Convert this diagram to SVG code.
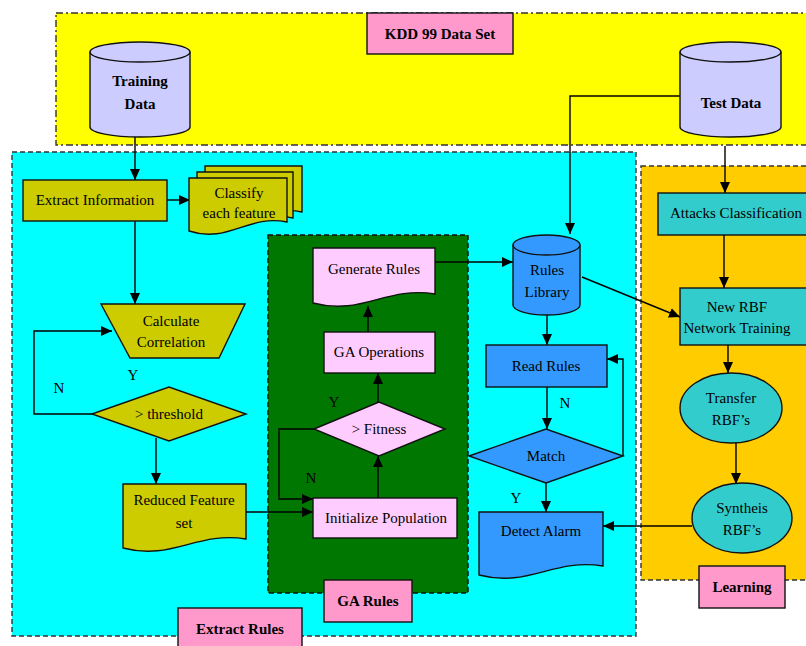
<svg xmlns="http://www.w3.org/2000/svg" width="806" height="646" viewBox="0 0 806 646">
<style>
text{font-family:"Liberation Serif","Times New Roman",serif;font-size:15px;fill:#000;text-anchor:middle;dominant-baseline:central}
.b{font-weight:bold}
.n{stroke:#111;stroke-width:1.4}
.c{fill:none;stroke:#000;stroke-width:1.4}
.lbl{fill:#ff99cc;stroke:#111;stroke-width:1.4}
</style>
<defs>
<marker id="ah" markerUnits="userSpaceOnUse" markerWidth="12" markerHeight="12" viewBox="0 0 12 12" refX="11" refY="6" orient="auto">
<path d="M0,1 L11,6 L0,11 Z" fill="#000"/>
</marker>
</defs>

<g id="regions">
<rect x="56" y="13" width="760" height="132" fill="#ffff00" stroke="#333" stroke-width="1.4" stroke-dasharray="7,3,2,3"/>
<rect x="12" y="152" width="624" height="484" fill="#00ffff" stroke="#333" stroke-width="1.4" stroke-dasharray="5,3"/>
<rect x="641" y="166" width="175" height="414" fill="#ffcc00" stroke="#333" stroke-width="1.4" stroke-dasharray="5,3"/>
<rect x="268" y="235" width="200" height="358" fill="#007700" stroke="#111" stroke-width="1.4" stroke-dasharray="5,3"/>
</g>

<g id="connectors">
<path class="c" d="M135,137 V180" marker-end="url(#ah)"/>
<path class="c" d="M167,200 H190" marker-end="url(#ah)"/>
<path class="c" d="M135,221 V304" marker-end="url(#ah)"/>
<path class="c" d="M92,414 H34 V331 H112" marker-end="url(#ah)"/>
<path class="c" d="M156,438 V484" marker-end="url(#ah)"/>
<path class="c" d="M246,512 H313" marker-end="url(#ah)"/>
<path class="c" d="M314,429 H279 V499 H313" marker-end="url(#ah)"/>
<path class="c" d="M378,498 V456" marker-end="url(#ah)"/>
<path class="c" d="M378,402 V373" marker-end="url(#ah)"/>
<path class="c" d="M368,332 V306" marker-end="url(#ah)"/>
<path class="c" d="M435,262 H513" marker-end="url(#ah)"/>
<path class="c" d="M680,96 H570 V234" marker-end="url(#ah)"/>
<path class="c" d="M725,146 V193" marker-end="url(#ah)"/>
<path class="c" d="M724,235 V288" marker-end="url(#ah)"/>
<path class="c" d="M582,277 L680,317" marker-end="url(#ah)"/>
<path class="c" d="M547,315 V345" marker-end="url(#ah)"/>
<path class="c" d="M547,387 V429" marker-end="url(#ah)"/>
<path class="c" d="M623,456 V359 H607" marker-end="url(#ah)"/>
<path class="c" d="M546,483 V512" marker-end="url(#ah)"/>
<path class="c" d="M728,345 V373" marker-end="url(#ah)"/>
<path class="c" d="M736,442 V484" marker-end="url(#ah)"/>
<path class="c" d="M692,526 H603" marker-end="url(#ah)"/>
</g>

<g id="kdd-label"><rect class="lbl" x="367" y="13" width="146" height="41"/><text class="b" x="440" y="34">KDD 99 Data Set</text></g>

<g id="training-data">
<path class="n" fill="#ccccff" d="M90,52 V127 A50,10 0 0 0 190,127 V52"/>
<ellipse class="n" fill="#ccccff" cx="140" cy="52" rx="50" ry="10"/>
<text class="b" x="140" y="81">Training</text><text class="b" x="140" y="104">Data</text>
</g>

<g id="test-data">
<path class="n" fill="#ccccff" d="M680,52 V127 A50.5,10 0 0 0 781,127 V52"/>
<ellipse class="n" fill="#ccccff" cx="730.5" cy="52" rx="50.5" ry="10"/>
<text class="b" x="731" y="103">Test Data</text>
</g>

<g id="extract-information"><rect class="n" fill="#cccc00" x="23" y="180" width="144" height="41"/><text x="95" y="200">Extract Information</text></g>

<g id="classify-feature">
<path class="n" fill="#cccc00" d="M205,166 H302 V212 C263.2,204 243.8,234 205,221 Z"/>
<path class="n" fill="#cccc00" d="M197,172 H293 V218 C254.6,210 235.4,240 197,227 Z"/>
<path class="n" fill="#cccc00" d="M189,178 H287 V222 C247.8,214 228.2,244 189,231 Z"/>
<text x="239" y="193">Classify</text><text x="239" y="213">each feature</text>
</g>

<g id="calculate-correlation">
<path class="n" fill="#cccc00" d="M101,304 H245 L219,358 H130 Z"/>
<text x="171" y="321">Calculate</text><text x="171" y="342">Correlation</text>
</g>

<g id="threshold">
<path class="n" fill="#cccc00" d="M92,414 L169,387 L246,414 L169,441 Z"/>
<text x="169" y="414">&gt; threshold</text>
</g>

<g id="reduced-feature">
<path class="n" fill="#cccc00" d="M123,484 H246 V539 C196.8,531 172.2,561 123,548 Z"/>
<text x="184" y="500">Reduced Feature</text><text x="184" y="523">set</text>
</g>

<g id="generate-rules">
<path class="n" fill="#ffccff" d="M313,248 H435 V294 C386.2,286 361.8,316 313,303 Z"/>
<text x="374" y="269">Generate Rules</text>
</g>

<g id="ga-operations"><rect class="n" fill="#ffccff" x="324" y="332" width="111" height="41"/><text x="379" y="352">GA Operations</text></g>

<g id="fitness">
<path class="n" fill="#ffccff" d="M314,429 L379,402 L445,429 L379,456 Z"/>
<text x="379" y="429">&gt; Fitness</text>
</g>

<g id="initialize-population"><rect class="n" fill="#ffccff" x="313" y="498" width="144" height="40"/><text x="386" y="518">Initialize Population</text></g>

<g id="ga-rules-label"><rect class="lbl" x="324" y="580" width="88" height="42"/><text class="b" x="368" y="601">GA Rules</text></g>

<g id="extract-rules-label"><rect class="lbl" x="178" y="608" width="124" height="42"/><text class="b" x="240" y="629">Extract Rules</text></g>

<g id="rules-library">
<path class="n" fill="#3399ff" d="M513,245 V305 A33.5,10 0 0 0 580,305 V245"/>
<ellipse class="n" fill="#3399ff" cx="546.5" cy="245" rx="33.5" ry="10"/>
<text x="547" y="270">Rules</text><text x="547" y="292">Library</text>
</g>

<g id="read-rules"><rect class="n" fill="#3399ff" x="486" y="345" width="121" height="42"/><text x="546" y="366">Read Rules</text></g>

<g id="match">
<path class="n" fill="#3399ff" d="M469,456 L546,429 L623,456 L546,483 Z"/>
<text x="546" y="456">Match</text>
</g>

<g id="detect-alarm">
<path class="n" fill="#3399ff" d="M479,512 H603 V566 C553.4,558 528.6,588 479,575 Z"/>
<text x="541" y="531">Detect Alarm</text>
</g>

<g id="attacks-classification"><rect class="n" fill="#33cccc" x="658" y="193" width="150" height="42"/><text x="736" y="213">Attacks Classification</text></g>

<g id="new-rbf"><rect class="n" fill="#33cccc" x="680" y="288" width="130" height="57"/><text x="737" y="307">New RBF</text><text x="737" y="328">Network Training</text></g>

<g id="transfer-rbf"><ellipse class="n" fill="#33cccc" cx="731" cy="408" rx="51" ry="35"/><text x="731" y="398">Transfer</text><text x="731" y="420">RBF’s</text></g>

<g id="syntheis-rbf"><ellipse class="n" fill="#33cccc" cx="742" cy="518" rx="50" ry="35"/><text x="742" y="508">Syntheis</text><text x="742" y="530">RBF’s</text></g>

<g id="learning-label"><rect class="lbl" x="699" y="566" width="86" height="42"/><text class="b" x="742" y="587">Learning</text></g>

<g id="edge-labels">
<text x="133" y="375">Y</text>
<text x="59" y="388">N</text>
<text x="334" y="402">Y</text>
<text x="311" y="478">N</text>
<text x="565" y="403">N</text>
<text x="516" y="498">Y</text>
</g>
</svg>
